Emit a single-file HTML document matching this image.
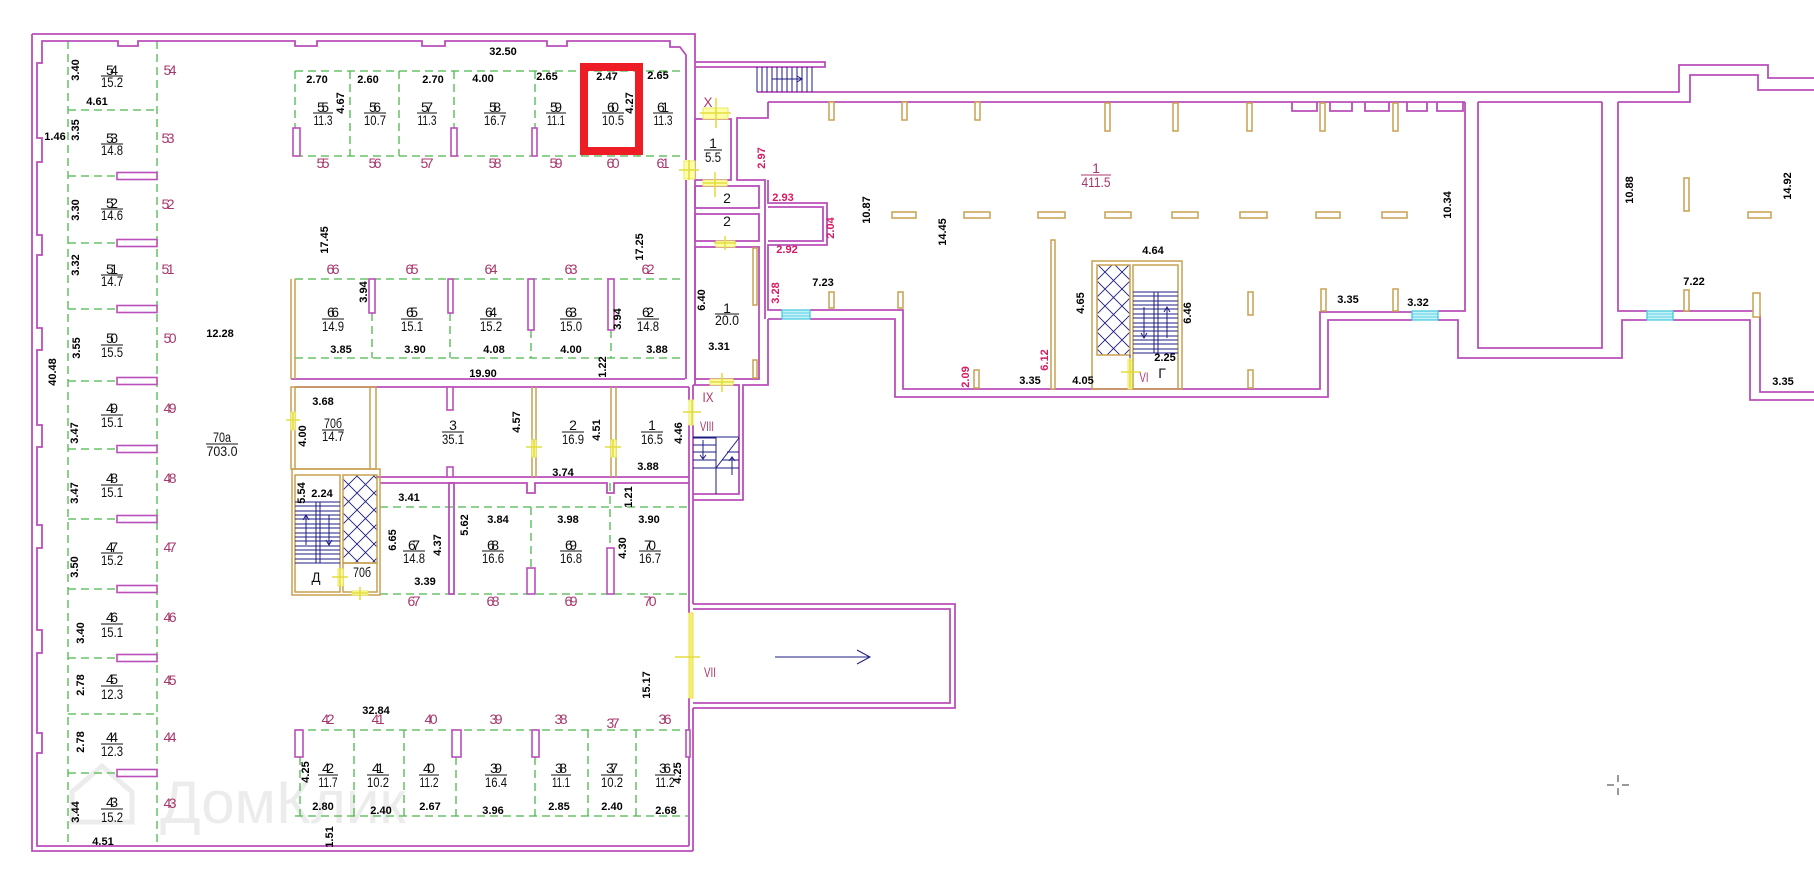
<!DOCTYPE html>
<html><head><meta charset="utf-8"><style>
html,body{margin:0;padding:0;background:#fff}
svg{display:block}
.w{fill:none;stroke:#b94fb9;stroke-width:1.8}
.wr{fill:#fff;stroke:#b94fb9;stroke-width:1.6}
.g{fill:none;stroke:#4cb84c;stroke-width:1.3;stroke-dasharray:8 5}
.t{fill:#fff;stroke:#c8a050;stroke-width:1.5}
.tn{fill:none;stroke:#c8a050;stroke-width:1.5}
.s{fill:none;stroke:#1c1c84;stroke-width:1}
.y{fill:#ffffa8;stroke:#e8e860;stroke-width:1}
.yc{fill:none;stroke:#e4dc40;stroke-width:1.6}
.win{fill:#c4f2f8;stroke:#3cc8dc;stroke-width:1.2}
text{font-family:"Liberation Sans",sans-serif;text-anchor:middle;dominant-baseline:central}
.d{font-size:11px;font-weight:bold;fill:#000}
.n{font-size:14px;fill:#111}
.r{font-size:14px;fill:#a8386c}
.rd{font-size:11px;font-weight:bold;fill:#d81860}
.fl{stroke:#111;stroke-width:1}
</style></head><body>
<svg width="1814" height="886" viewBox="0 0 1814 886" xmlns="http://www.w3.org/2000/svg">
<defs>
<pattern id="hb" width="17" height="17" patternUnits="userSpaceOnUse"><path d="M0,0 L17,17 M17,0 L0,17" stroke="#1c1c84" stroke-width="0.9" fill="none"/></pattern>
</defs>
<rect width="1814" height="886" fill="#fff"/>

<!-- watermark -->
<path d="M72,792 L102,766 L132,792 V822 H72 Z" fill="none" stroke="#ececec" stroke-width="5"/>
<text x="160" y="823" style="font-size:60px;fill:#ececec;text-anchor:start;dominant-baseline:auto">ДомКлик</text>

<!-- green dashed -->
<path class="g" d="M68,41V846 M157,41V846 M68,110H157 M68,714H157 M68,176H117 M68,243H117 M68,309H117 M68,381H117 M68,449H117 M68,519H117 M68,589H117 M68,658H117 M68,773H117"/>
<path class="g" d="M295,71H685 M295,156H685 M295,71V128 M350,71V156 M399,71V156 M454,71V128 M535,71V128 M582,71V156 M638,71V156"/>
<path class="g" d="M295,279H685 M295,358H685 M372,313V358 M450,313V358 M531,330V358 M611,330V358"/>
<path class="g" d="M380,507H689 M380,594H689 M531,507V568 M610,483V548"/>
<path class="g" d="M295,730H688 M295,816H688 M300,757V816 M354,730V816 M404,730V816 M456,757V816 M535,757V816 M588,730V816 M636,730V816"/>

<!-- walls -->
<path class="w" d="M32,34V851H693 M32,34H695V62"/>
<path class="w" d="M689,846H37V753H42V733H37V653H42V630H37V548H42V525H37V447H42V425H37V350H42V328H37V255H42V235H37V162H42V138H37V63H42V41H118V46H138V41H295V46H317V41H422V46H445V41H547V46H567V41H670V47H680L686,55V160"/>
<path class="w" d="M686,180V379 M689,387V400 M689,425V613 M689,698V846"/>
<path class="w" d="M695,62V160 M695,180V385 M693,385V400 M693,425V604 M693,708V851"/>
<path class="w" d="M695,62H825V67H695"/>
<rect class="w" x="695" y="119" width="36" height="61"/>
<rect class="w" x="695" y="186" width="64" height="22"/>
<rect class="w" x="695" y="214" width="64" height="27"/>
<rect class="w" x="695" y="247" width="64" height="132"/>
<path class="w" d="M768,102V118H737V180H765V319 M768,319V385H743V500H693 M693,385H739V494H693"/>
<path class="w" d="M768,180V203H827V245H768V310H782 M810,310H903V389H1320V312H1412 M1438,311H1465V102 M768,102H1465 M1478,102H1602 M1618,102H1690V75H1758V90H1814"/>
<path class="w" d="M768,207H823V241H768"/>
<path class="w" d="M757,92H1679V65H1768V78H1814 M768,319H782 M810,319H895V397H1328V320H1412 M1438,320H1458V358H1622V320H1647 M1673,320H1750V400H1814"/>
<path class="w" d="M1478,102V348H1602V102"/>
<path class="w" d="M1618,102V311H1647 M1673,311H1754 M1760,315V392H1814"/>
<path class="w" d="M693,604H955V708H693 M693,609H950V703H693"/>
<path class="w" d="M291,379H685 M295,387H689 M376,477H689 M380,483H527V493H535V483H607V493H614V483H689"/>
<rect class="w" x="449" y="483" width="5" height="111"/>
<path class="w" d="M1292,102V111H1317V102 M1330,102V111H1352V102 M1365,102V111H1389V102 M1407,102V111H1427V102 M1437,102V111H1463V102"/>

<!-- magenta stubs -->
<g class="wr">
<rect x="117" y="172.5" width="40" height="7"/><rect x="117" y="239.5" width="40" height="7"/><rect x="117" y="305.5" width="40" height="7"/>
<rect x="117" y="377.5" width="40" height="7"/><rect x="117" y="445.5" width="40" height="7"/><rect x="117" y="515.5" width="40" height="7"/>
<rect x="117" y="585.5" width="40" height="7"/><rect x="117" y="654.5" width="40" height="7"/><rect x="117" y="769.5" width="40" height="7"/>
<rect x="293" y="128" width="7" height="28"/><rect x="451" y="128" width="6" height="28"/><rect x="532" y="128" width="5" height="28"/>
<rect x="369" y="279" width="6" height="34"/><rect x="448" y="279" width="5" height="34"/><rect x="528" y="279" width="6" height="51"/><rect x="608" y="279" width="6" height="51"/>
<rect x="447" y="387" width="6" height="23"/><rect x="447" y="467" width="6" height="10"/>
<rect x="527" y="568" width="8" height="26"/><rect x="607" y="548" width="7" height="46"/>
<rect x="295" y="730" width="8" height="27"/><rect x="452" y="730" width="9" height="27"/><rect x="532" y="730" width="7" height="27"/><rect x="686" y="730" width="4" height="27"/>
</g>

<!-- tan elements -->
<g class="t">
<rect x="829" y="102" width="5" height="18"/><rect x="902" y="102" width="5" height="18"/><rect x="975" y="102" width="5" height="18"/>
<rect x="1105" y="103" width="5" height="28"/><rect x="1173" y="103" width="5" height="28"/><rect x="1247" y="103" width="5" height="28"/><rect x="1320" y="103" width="5" height="28"/><rect x="1393" y="103" width="5" height="28"/>
<rect x="892" y="212" width="24" height="6"/><rect x="964" y="212" width="26" height="6"/><rect x="1038" y="212" width="27" height="6"/><rect x="1105" y="212" width="26" height="6"/>
<rect x="1172" y="212" width="26" height="6"/><rect x="1240" y="212" width="27" height="6"/><rect x="1316" y="212" width="24" height="6"/><rect x="1382" y="212" width="25" height="6"/><rect x="1748" y="212" width="23" height="6"/>
<rect x="1684" y="178" width="5" height="33"/>
<rect x="829" y="292" width="5" height="16"/><rect x="898" y="292" width="5" height="16"/><rect x="1248" y="292" width="5" height="23"/><rect x="1321" y="289" width="5" height="22"/><rect x="1393" y="289" width="5" height="22"/>
<rect x="974" y="370" width="5" height="18"/><rect x="1248" y="370" width="5" height="18"/><rect x="1684" y="290" width="5" height="21"/><rect x="1753" y="293" width="7" height="24"/>
<rect x="1051" y="240" width="4" height="149"/>
<rect x="753" y="248" width="4" height="57"/><rect x="753" y="360" width="4" height="18"/>
</g>
<rect class="tn" x="1092" y="261" width="90" height="128"/>
<rect x="1097" y="265" width="33" height="90" fill="url(#hb)" stroke="#c8a050" stroke-width="1.5"/>
<path class="tn" d="M1133,389V265H1178V389"/>
<path class="tn" d="M291,279V379 M295,279V379"/>
<rect class="tn" x="291" y="387" width="85" height="82"/>
<path class="tn" d="M295,387V469 M370,387V469"/>
<path class="tn" d="M532,387V477 M536,387V477 M611,387V477 M616,387V477"/>
<rect class="tn" x="292" y="469" width="88" height="126"/>
<rect class="tn" x="295" y="475" width="45" height="117"/>
<rect x="343" y="475" width="34" height="88" fill="url(#hb)" stroke="#c8a050" stroke-width="1.5"/>
<rect class="tn" x="343" y="563" width="34" height="29"/>

<!-- stairs -->
<path class="s" d="M757,67V92 M762,67V92 M767,67V92 M772,67V92 M777,67V92 M782,67V92 M787,67V92 M792,67V92 M797,67V92 M802,67V92 M807,67V92 M812,67V92"/>
<path class="s" d="M772,79H802 M797,76L802,79L797,82" stroke-width="1.3"/>
<path class="s" d="M1133,292H1178 M1133,296H1178 M1133,301H1178 M1133,305H1178 M1133,309H1178 M1133,314H1178 M1133,318H1178 M1133,323H1178 M1133,327H1178 M1133,331H1178 M1133,336H1178 M1133,340H1178 M1133,344H1178 M1133,349H1178 M1133,353H1178 M1154,292V353 M1158,292V353 M1130,355V389"/>
<path class="s" d="M1144,307V338 M1141,333L1144,338L1147,333 M1167,338V307 M1164,312L1167,307L1170,312" stroke-width="1.3"/>
<path class="s" d="M295,502H340 M295,506H340 M295,511H340 M295,515H340 M295,519H340 M295,524H340 M295,528H340 M295,533H340 M295,537H340 M295,541H340 M295,546H340 M295,550H340 M295,554H340 M295,559H340 M295,563H340 M316,502V563 M320,502V563"/>
<path class="s" d="M306,545V515 M303,520L306,515L309,520 M329,515V545 M326,540L329,545L332,540" stroke-width="1.3"/>
<path class="s" d="M693,437H739 M693,438H716 M693,445H716 M693,452H716 M693,460H716 M693,468H716 M716,437V494 M716,468L739,438 M727,452H739 M722,460H739 M716,468H739 M703,440V459 M700,455L703,459L706,455 M732,475V457 M729,461L732,457L735,461"/>
<path class="s" d="M775,657H870 M857,650L870,657L857,664" stroke-width="1.3"/>

<!-- windows -->
<rect class="win" x="782" y="310" width="28" height="9"/><path d="M782,313H810 M782,316H810" stroke="#3cc8dc" stroke-width="0.8"/>
<rect class="win" x="1412" y="311" width="26" height="9"/><path d="M1412,314H1438 M1412,317H1438" stroke="#3cc8dc" stroke-width="0.8"/>
<rect class="win" x="1647" y="311" width="26" height="9"/><path d="M1647,314H1673 M1647,317H1673" stroke="#3cc8dc" stroke-width="0.8"/>

<!-- doors -->
<rect class="y" x="703" y="108" width="25" height="11"/><path class="yc" d="M716,98V128 M700,113H731"/>
<rect class="y" x="684" y="161" width="11" height="18"/><path class="yc" d="M689,160V180 M679,170H699"/>
<rect class="y" x="703" y="180" width="24" height="6"/><path class="yc" d="M715,172V197 M703,183H727"/>
<rect class="y" x="716" y="241" width="19" height="6"/><path class="yc" d="M725,236V250 M714,243H736"/>
<rect class="y" x="710" y="379" width="23" height="6"/><path class="yc" d="M722,373V392 M710,382H734"/>
<rect class="y" x="689" y="400" width="4" height="25"/><path class="yc" d="M692,400V425 M683,412H701"/>
<rect class="y" x="291" y="412" width="4" height="18"/><path class="yc" d="M293,412V430 M286,420H300"/>
<rect class="y" x="532" y="440" width="4" height="17"/><path class="yc" d="M534,439V457 M526,447H542"/>
<rect class="y" x="611" y="440" width="5" height="17"/><path class="yc" d="M613,439V457 M605,447H621"/>
<rect class="y" x="338" y="569" width="5" height="17"/><path class="yc" d="M340,568V586 M332,577H348"/>
<rect class="y" x="352" y="591" width="16" height="4"/><path class="yc" d="M360,587V600 M352,593H368"/>
<rect x="689" y="613" width="4" height="85" fill="#f6f070" stroke="#e8e050"/><path class="yc" d="M675,657H700"/>
<rect class="y" x="1128" y="360" width="4" height="29"/><path class="yc" d="M1130,358V388 M1121,372H1141"/>

<!-- red selection box -->
<rect x="584" y="67" width="55" height="84" fill="none" stroke="#ee1c25" stroke-width="8"/>

<!-- crosshair -->
<path d="M1618,775V782 M1618,788V795 M1607,785H1614 M1622,785H1629" stroke="#333" stroke-width="1"/>

<!-- fractions -->
<g>
<text class="n" x="112" y="70" textLength="12">54</text><line class="fl" x1="101" x2="123" y1="76" y2="76"/><text class="n" x="112" y="82" textLength="22" lengthAdjust="spacingAndGlyphs">15.2</text>
<text class="n" x="112" y="138" textLength="12">53</text><line class="fl" x1="101" x2="123" y1="144" y2="144"/><text class="n" x="112" y="150" textLength="22" lengthAdjust="spacingAndGlyphs">14.8</text>
<text class="n" x="112" y="203" textLength="12">52</text><line class="fl" x1="101" x2="123" y1="209" y2="209"/><text class="n" x="112" y="215" textLength="22" lengthAdjust="spacingAndGlyphs">14.6</text>
<text class="n" x="112" y="269" textLength="12">51</text><line class="fl" x1="101" x2="123" y1="275" y2="275"/><text class="n" x="112" y="281" textLength="22" lengthAdjust="spacingAndGlyphs">14.7</text>
<text class="n" x="112" y="338" textLength="12">50</text><line class="fl" x1="101" x2="123" y1="345" y2="345"/><text class="n" x="112" y="352" textLength="22" lengthAdjust="spacingAndGlyphs">15.5</text>
<text class="n" x="112" y="408" textLength="12">49</text><line class="fl" x1="101" x2="123" y1="415" y2="415"/><text class="n" x="112" y="422" textLength="22" lengthAdjust="spacingAndGlyphs">15.1</text>
<text class="n" x="112" y="478" textLength="12">48</text><line class="fl" x1="101" x2="123" y1="485" y2="485"/><text class="n" x="112" y="492" textLength="22" lengthAdjust="spacingAndGlyphs">15.1</text>
<text class="n" x="112" y="547" textLength="12">47</text><line class="fl" x1="101" x2="123" y1="553" y2="553"/><text class="n" x="112" y="560" textLength="22" lengthAdjust="spacingAndGlyphs">15.2</text>
<text class="n" x="112" y="617" textLength="12">46</text><line class="fl" x1="101" x2="123" y1="624" y2="624"/><text class="n" x="112" y="632" textLength="22" lengthAdjust="spacingAndGlyphs">15.1</text>
<text class="n" x="112" y="679" textLength="12">45</text><line class="fl" x1="101" x2="123" y1="686" y2="686"/><text class="n" x="112" y="694" textLength="22" lengthAdjust="spacingAndGlyphs">12.3</text>
<text class="n" x="112" y="737" textLength="12">44</text><line class="fl" x1="101" x2="123" y1="744" y2="744"/><text class="n" x="112" y="751" textLength="22" lengthAdjust="spacingAndGlyphs">12.3</text>
<text class="n" x="112" y="802" textLength="12">43</text><line class="fl" x1="101" x2="123" y1="809" y2="809"/><text class="n" x="112" y="817" textLength="22" lengthAdjust="spacingAndGlyphs">15.2</text>

<text class="n" x="323" y="107" textLength="12">55</text><line class="fl" x1="313" x2="333" y1="113" y2="113"/><text class="n" x="323" y="120" textLength="19" lengthAdjust="spacingAndGlyphs">11.3</text>
<text class="n" x="375" y="107" textLength="12">56</text><line class="fl" x1="364" x2="386" y1="113" y2="113"/><text class="n" x="375" y="120" textLength="22" lengthAdjust="spacingAndGlyphs">10.7</text>
<text class="n" x="427" y="107" textLength="12">57</text><line class="fl" x1="417" x2="437" y1="113" y2="113"/><text class="n" x="427" y="120" textLength="19" lengthAdjust="spacingAndGlyphs">11.3</text>
<text class="n" x="495" y="107" textLength="12">58</text><line class="fl" x1="484" x2="506" y1="113" y2="113"/><text class="n" x="495" y="120" textLength="22" lengthAdjust="spacingAndGlyphs">16.7</text>
<text class="n" x="556" y="107" textLength="12">59</text><line class="fl" x1="546" x2="566" y1="113" y2="113"/><text class="n" x="556" y="120" textLength="18" lengthAdjust="spacingAndGlyphs">11.1</text>
<text class="n" x="613" y="107" textLength="12">60</text><line class="fl" x1="602" x2="624" y1="113" y2="113"/><text class="n" x="613" y="120" textLength="22" lengthAdjust="spacingAndGlyphs">10.5</text>
<text class="n" x="663" y="107" textLength="12">61</text><line class="fl" x1="653" x2="673" y1="113" y2="113"/><text class="n" x="663" y="120" textLength="19" lengthAdjust="spacingAndGlyphs">11.3</text>

<text class="n" x="333" y="312" textLength="12">66</text><line class="fl" x1="322" x2="344" y1="319" y2="319"/><text class="n" x="333" y="326" textLength="22" lengthAdjust="spacingAndGlyphs">14.9</text>
<text class="n" x="412" y="312" textLength="12">65</text><line class="fl" x1="401" x2="423" y1="319" y2="319"/><text class="n" x="412" y="326" textLength="22" lengthAdjust="spacingAndGlyphs">15.1</text>
<text class="n" x="491" y="312" textLength="12">64</text><line class="fl" x1="480" x2="502" y1="319" y2="319"/><text class="n" x="491" y="326" textLength="22" lengthAdjust="spacingAndGlyphs">15.2</text>
<text class="n" x="571" y="312" textLength="12">63</text><line class="fl" x1="560" x2="582" y1="319" y2="319"/><text class="n" x="571" y="326" textLength="22" lengthAdjust="spacingAndGlyphs">15.0</text>
<text class="n" x="648" y="312" textLength="12">62</text><line class="fl" x1="637" x2="659" y1="319" y2="319"/><text class="n" x="648" y="326" textLength="22" lengthAdjust="spacingAndGlyphs">14.8</text>

<text class="n" x="333" y="423" textLength="18" lengthAdjust="spacingAndGlyphs">70б</text><line class="fl" x1="322" x2="344" y1="430" y2="430"/><text class="n" x="333" y="436" textLength="22" lengthAdjust="spacingAndGlyphs">14.7</text>
<text class="n" x="453" y="425">3</text><line class="fl" x1="442" x2="464" y1="432" y2="432"/><text class="n" x="453" y="439" textLength="22" lengthAdjust="spacingAndGlyphs">35.1</text>
<text class="n" x="573" y="425">2</text><line class="fl" x1="562" x2="584" y1="432" y2="432"/><text class="n" x="573" y="439" textLength="22" lengthAdjust="spacingAndGlyphs">16.9</text>
<text class="n" x="652" y="425">1</text><line class="fl" x1="641" x2="663" y1="432" y2="432"/><text class="n" x="652" y="439" textLength="22" lengthAdjust="spacingAndGlyphs">16.5</text>

<text class="n" x="414" y="545" textLength="12">67</text><line class="fl" x1="403" x2="425" y1="551" y2="551"/><text class="n" x="414" y="558" textLength="22" lengthAdjust="spacingAndGlyphs">14.8</text>
<text class="n" x="493" y="545" textLength="12">68</text><line class="fl" x1="482" x2="504" y1="551" y2="551"/><text class="n" x="493" y="558" textLength="22" lengthAdjust="spacingAndGlyphs">16.6</text>
<text class="n" x="571" y="545" textLength="12">69</text><line class="fl" x1="560" x2="582" y1="551" y2="551"/><text class="n" x="571" y="558" textLength="22" lengthAdjust="spacingAndGlyphs">16.8</text>
<text class="n" x="650" y="545" textLength="12">70</text><line class="fl" x1="639" x2="661" y1="551" y2="551"/><text class="n" x="650" y="558" textLength="22" lengthAdjust="spacingAndGlyphs">16.7</text>

<text class="n" x="328" y="768" textLength="12">42</text><line class="fl" x1="318" x2="338" y1="775" y2="775"/><text class="n" x="328" y="782" textLength="19" lengthAdjust="spacingAndGlyphs">11.7</text>
<text class="n" x="378" y="768" textLength="12">41</text><line class="fl" x1="367" x2="389" y1="775" y2="775"/><text class="n" x="378" y="782" textLength="22" lengthAdjust="spacingAndGlyphs">10.2</text>
<text class="n" x="429" y="768" textLength="12">40</text><line class="fl" x1="419" x2="439" y1="775" y2="775"/><text class="n" x="429" y="782" textLength="19" lengthAdjust="spacingAndGlyphs">11.2</text>
<text class="n" x="496" y="768" textLength="12">39</text><line class="fl" x1="485" x2="507" y1="775" y2="775"/><text class="n" x="496" y="782" textLength="22" lengthAdjust="spacingAndGlyphs">16.4</text>
<text class="n" x="561" y="768" textLength="12">38</text><line class="fl" x1="551" x2="571" y1="775" y2="775"/><text class="n" x="561" y="782" textLength="18" lengthAdjust="spacingAndGlyphs">11.1</text>
<text class="n" x="612" y="768" textLength="12">37</text><line class="fl" x1="601" x2="623" y1="775" y2="775"/><text class="n" x="612" y="782" textLength="22" lengthAdjust="spacingAndGlyphs">10.2</text>
<text class="n" x="665" y="768" textLength="12">36</text><line class="fl" x1="655" x2="675" y1="775" y2="775"/><text class="n" x="665" y="782" textLength="19" lengthAdjust="spacingAndGlyphs">11.2</text>

<text class="n" x="222" y="437" textLength="18" lengthAdjust="spacingAndGlyphs">70а</text><line class="fl" x1="206" x2="238" y1="444" y2="444"/><text class="n" x="222" y="451" textLength="31" lengthAdjust="spacingAndGlyphs">703.0</text>
<text class="n" x="713" y="143">1</text><line class="fl" x1="704" x2="722" y1="150" y2="150"/><text class="n" x="713" y="157" textLength="16" lengthAdjust="spacingAndGlyphs">5.5</text>
<text class="n" x="727" y="308">1</text><line class="fl" x1="715" x2="739" y1="314" y2="314"/><text class="n" x="727" y="320" textLength="24" lengthAdjust="spacingAndGlyphs">20.0</text>
<text class="n" x="727" y="198">2</text><text class="n" x="727" y="221">2</text>
<text class="r" x="1096" y="168">1</text><line x1="1081" x2="1111" y1="175" y2="175" stroke="#a8386c" stroke-width="1"/><text class="r" x="1096" y="182" textLength="29" lengthAdjust="spacingAndGlyphs">411.5</text>
<text class="n" x="316" y="577" textLength="9" lengthAdjust="spacingAndGlyphs">Д</text>
<text class="n" x="362" y="572" textLength="18" lengthAdjust="spacingAndGlyphs">70б</text>
<text class="n" x="1162" y="373">Г</text>
</g>

<!-- red room tags -->
<g class="r">
<text x="170" y="70" textLength="13">54</text><text x="168" y="138" textLength="13">53</text><text x="168" y="204" textLength="13">52</text><text x="168" y="269" textLength="13">51</text>
<text x="170" y="338" textLength="13">50</text><text x="170" y="408" textLength="13">49</text><text x="170" y="478" textLength="13">48</text><text x="170" y="547" textLength="13">47</text>
<text x="170" y="617" textLength="13">46</text><text x="170" y="680" textLength="13">45</text><text x="170" y="737" textLength="13">44</text><text x="170" y="803" textLength="13">43</text>
<text x="323" y="163" textLength="13">55</text><text x="375" y="163" textLength="13">56</text><text x="427" y="163" textLength="13">57</text><text x="495" y="163" textLength="13">58</text>
<text x="556" y="163" textLength="13">59</text><text x="613" y="163" textLength="13">60</text><text x="663" y="163" textLength="13">61</text>
<text x="333" y="269" textLength="13">66</text><text x="412" y="269" textLength="13">65</text><text x="491" y="269" textLength="13">64</text><text x="571" y="269" textLength="13">63</text><text x="648" y="269" textLength="13">62</text>
<text x="414" y="601" textLength="13">67</text><text x="493" y="601" textLength="13">68</text><text x="571" y="601" textLength="13">69</text><text x="650" y="601" textLength="13">70</text>
<text x="328" y="719" textLength="13">42</text><text x="378" y="719" textLength="13">41</text><text x="431" y="719" textLength="13">40</text><text x="496" y="719" textLength="13">39</text>
<text x="561" y="719" textLength="13">38</text><text x="613" y="723" textLength="13">37</text><text x="665" y="719" textLength="13">36</text>
<text x="708" y="102" textLength="9" lengthAdjust="spacingAndGlyphs">X</text>
<text x="708" y="397" textLength="11" lengthAdjust="spacingAndGlyphs">IX</text>
<text x="707" y="426" textLength="14" lengthAdjust="spacingAndGlyphs">VIII</text>
<text x="710" y="672" textLength="12" lengthAdjust="spacingAndGlyphs">VII</text>
<text x="1144" y="377" textLength="9" lengthAdjust="spacingAndGlyphs">VI</text>
</g>

<!-- dimension labels horizontal -->
<g class="d">
<text x="503" y="52">32.50</text><text x="97" y="102">4.61</text><text x="55" y="137">1.46</text><text x="220" y="334">12.28</text><text x="103" y="842">4.51</text>
<text x="317" y="80">2.70</text><text x="368" y="80">2.60</text><text x="433" y="80">2.70</text><text x="483" y="79">4.00</text><text x="547" y="77">2.65</text><text x="607" y="77">2.47</text><text x="658" y="76">2.65</text>
<text x="341" y="350">3.85</text><text x="415" y="350">3.90</text><text x="494" y="350">4.08</text><text x="571" y="350">4.00</text><text x="657" y="350">3.88</text>
<text x="483" y="374">19.90</text><text x="323" y="402">3.68</text><text x="563" y="473">3.74</text><text x="648" y="467">3.88</text>
<text x="409" y="498">3.41</text><text x="498" y="520">3.84</text><text x="568" y="520">3.98</text><text x="649" y="520">3.90</text>
<text x="425" y="582">3.39</text><text x="322" y="494">2.24</text><text x="376" y="711">32.84</text>
<text x="323" y="807">2.80</text><text x="381" y="811">2.40</text><text x="430" y="807">2.67</text><text x="493" y="811">3.96</text><text x="559" y="807">2.85</text><text x="612" y="807">2.40</text><text x="666" y="811">2.68</text>
<text x="719" y="347">3.31</text><text x="823" y="283">7.23</text>
<text x="1153" y="251">4.64</text><text x="1165" y="358">2.25</text><text x="1030" y="381">3.35</text><text x="1083" y="381">4.05</text><text x="1348" y="300">3.35</text>
<text x="1418" y="303">3.32</text><text x="1694" y="282">7.22</text><text x="1783" y="382">3.35</text>
</g>
<!-- vertical dims -->
<g class="d">
<text transform="translate(76,70) rotate(-90)">3.40</text><text transform="translate(76,130) rotate(-90)">3.35</text><text transform="translate(76,210) rotate(-90)">3.30</text>
<text transform="translate(76,265) rotate(-90)">3.32</text><text transform="translate(77,348) rotate(-90)">3.55</text><text transform="translate(75,433) rotate(-90)">3.47</text>
<text transform="translate(75,493) rotate(-90)">3.47</text><text transform="translate(75,567) rotate(-90)">3.50</text><text transform="translate(81,633) rotate(-90)">3.40</text>
<text transform="translate(81,685) rotate(-90)">2.78</text><text transform="translate(81,742) rotate(-90)">2.78</text><text transform="translate(76,812) rotate(-90)">3.44</text>
<text transform="translate(53,372) rotate(-90)">40.48</text>
<text transform="translate(341,103) rotate(-90)">4.67</text><text transform="translate(630,103) rotate(-90)">4.27</text>
<text transform="translate(325,240) rotate(-90)">17.45</text><text transform="translate(640,247) rotate(-90)">17.25</text>
<text transform="translate(364,292) rotate(-90)">3.94</text><text transform="translate(618,319) rotate(-90)">3.94</text>
<text transform="translate(603,367) rotate(-90)">1.22</text><text transform="translate(303,436) rotate(-90)">4.00</text>
<text transform="translate(517,422) rotate(-90)">4.57</text><text transform="translate(597,430) rotate(-90)">4.51</text><text transform="translate(679,433) rotate(-90)">4.46</text>
<text transform="translate(302,493) rotate(-90)">5.54</text>
<text transform="translate(393,540) rotate(-90)">6.65</text><text transform="translate(438,545) rotate(-90)">4.37</text><text transform="translate(465,525) rotate(-90)">5.62</text>
<text transform="translate(623,548) rotate(-90)">4.30</text><text transform="translate(629,497) rotate(-90)">1.21</text>
<text transform="translate(647,685) rotate(-90)">15.17</text>
<text transform="translate(306,772) rotate(-90)">4.25</text><text transform="translate(678,773) rotate(-90)">4.25</text>
<text transform="translate(330,837) rotate(-90)">1.51</text>
<text transform="translate(702,300) rotate(-90)">6.40</text>
<text transform="translate(867,210) rotate(-90)">10.87</text><text transform="translate(943,232) rotate(-90)">14.45</text>
<text transform="translate(1081,303) rotate(-90)">4.65</text><text transform="translate(1188,313) rotate(-90)">6.46</text>
<text transform="translate(1448,205) rotate(-90)">10.34</text><text transform="translate(1630,190) rotate(-90)">10.88</text><text transform="translate(1788,186) rotate(-90)">14.92</text>
</g>
<!-- red dims -->
<g class="rd">
<text transform="translate(762,158) rotate(-90)">2.97</text><text transform="translate(831,228) rotate(-90)">2.04</text>
<text transform="translate(776,293) rotate(-90)">3.28</text><text transform="translate(966,377) rotate(-90)">2.09</text>
<text transform="translate(1045,360) rotate(-90)">6.12</text>
<text x="783" y="198">2.93</text><text x="787" y="250">2.92</text>
</g>
</svg>
</body></html>
